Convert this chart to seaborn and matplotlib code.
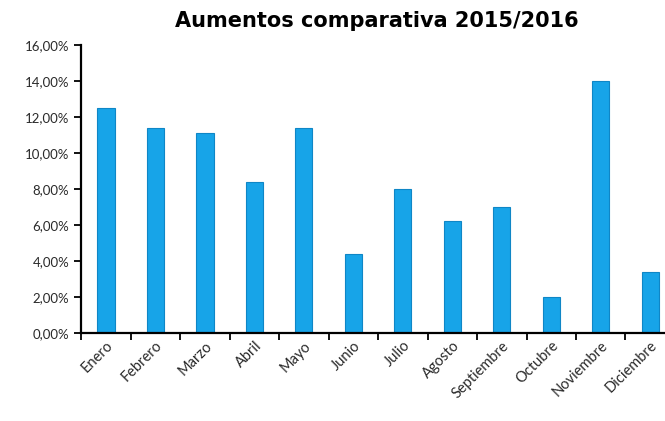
#!/usr/bin/env python3
# bar chart of monthly increases 2015/2016
import numpy as np
import pandas as pd
import seaborn as sns
import matplotlib.pyplot as plt
from matplotlib.ticker import FuncFormatter, FixedLocator

meses = ['Enero', 'Febrero', 'Marzo', 'Abril', 'Mayo', 'Junio', 'Julio',
         'Agosto', 'Septiembre', 'Octubre', 'Noviembre', 'Diciembre']
aumento = [12.5, 11.4, 11.1, 8.4, 11.4, 4.4, 8.0, 6.2, 7.0, 2.0, 14.0, 3.4]

df = pd.DataFrame({'mes': meses, 'aumento': aumento})

sns.set_style('ticks')
plt.rcParams['font.family'] = ['Lato', 'DejaVu Sans']

fig = plt.figure(figsize=(6.65, 4.21), dpi=100)
ax = fig.add_axes([0.122, 0.209, 0.893, 0.684])

sns.barplot(data=df, x='mes', y='aumento', color='#17a4e8', saturation=1,
            width=0.35, edgecolor='#0f86c6', linewidth=0.8, ax=ax)

ax.set_ylim(0, 16)
ax.set_xlim(-0.5, len(meses) - 0.5)
ax.set_yticks(np.arange(0, 17, 2))
ax.yaxis.set_major_formatter(FuncFormatter(lambda v, p: f'{v:.2f}'.replace('.', ',') + '%'))
ax.set_xlabel('')
ax.set_ylabel('')

# ticks between categories on x axis
ax.xaxis.set_minor_locator(FixedLocator(np.arange(-0.5, len(meses), 1)))
ax.tick_params(axis='x', which='major', length=0, pad=4)
ax.tick_params(axis='x', which='minor', length=5, width=1.3, color='black')
ax.tick_params(axis='y', length=5, width=1.3, color='black', labelsize=9.5,
               labelcolor='#2a2a2a')
plt.setp(ax.get_xticklabels(), rotation=45, ha='right', rotation_mode='anchor',
         fontsize=10.5, color='#2a2a2a')

for s in ['top', 'right']:
    ax.spines[s].set_visible(False)
for s in ['left', 'bottom']:
    ax.spines[s].set_linewidth(1.6)
    ax.spines[s].set_color('black')

fig.text(0.566, 0.95, 'Aumentos comparativa 2015/2016', ha='center', va='center',
         fontsize=15, fontweight='bold', color='black', family=['DejaVu Sans'])

fig.savefig('out.png', dpi=100)
plt.close(fig)
